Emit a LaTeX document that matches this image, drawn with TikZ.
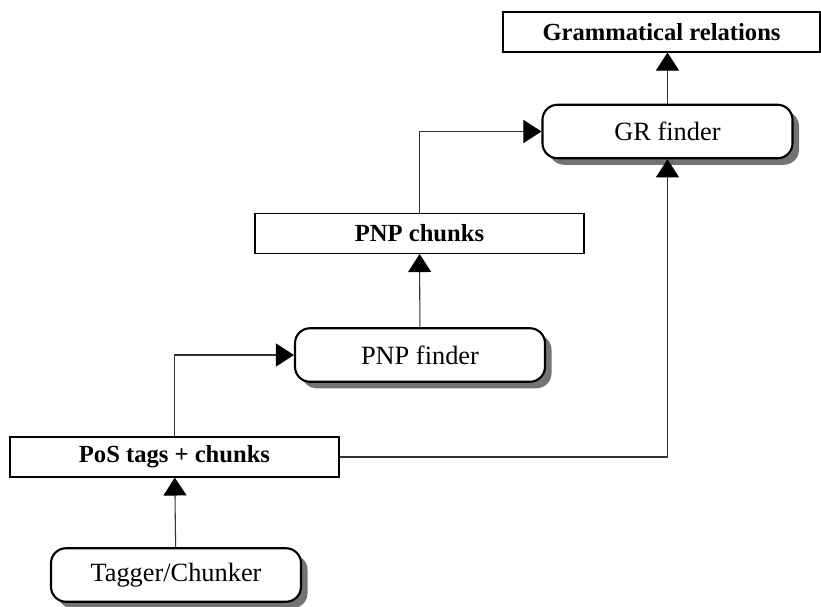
\documentclass[tikz,border=0pt]{standalone}
\usepackage{fontspec}
\setmainfont{Liberation Serif}
\usepackage{tikz}
\usetikzlibrary{arrows.meta,positioning,shadows}
\tikzset{
  datbox/.style={draw, line width=0.6pt, fill=white, align=center, font=\fontsize{14}{16}\selectfont\bfseries, minimum height=8mm, inner sep=2pt},
  procbox/.style={draw, line width=1.2pt, rounded corners=3mm, fill=white, align=center, font=\fontsize{15}{18}\selectfont,
    minimum width=50mm, minimum height=10.7mm, drop shadow={shadow xshift=1.3mm, shadow yshift=-1.3mm, fill=black!55, opacity=1}},
  flow/.style={-{Triangle[length=3.6mm, width=4.6mm, color=black]}, line width=0.6pt, draw=black!80},
}

\begin{document}
\begin{tikzpicture}
  \useasboundingbox (0,0) rectangle (16.42,-12.12);
  \node[datbox, minimum width=63.4mm] (gr) at (13.23,-0.64) {Grammatical relations};
  \node[procbox] (grf) at (13.35,-2.63) {GR finder};
  \node[datbox, minimum width=65.8mm] (pnpc) at (8.39,-4.67) {PNP chunks};
  \node[procbox] (pnpf) at (8.4,-7.1) {PNP finder};
  \node[datbox, minimum width=65.8mm] (pos) at (3.49,-9.14) {PoS tags + chunks};
  \node[procbox] (tag) at (3.52,-11.5) {Tagger/Chunker};
  \draw[flow] (tag) -- (pos);
  \draw[flow] (pos.north) |- (pnpf.west);
  \draw[flow] (pnpf) -- (pnpc);
  \draw[flow] (pnpc.north) |- (grf.west);
  \draw[flow] (pos.east) -| (grf.south);
  \draw[flow] (grf.north) -- (grf.north |- gr.south);
\end{tikzpicture}
\end{document}
